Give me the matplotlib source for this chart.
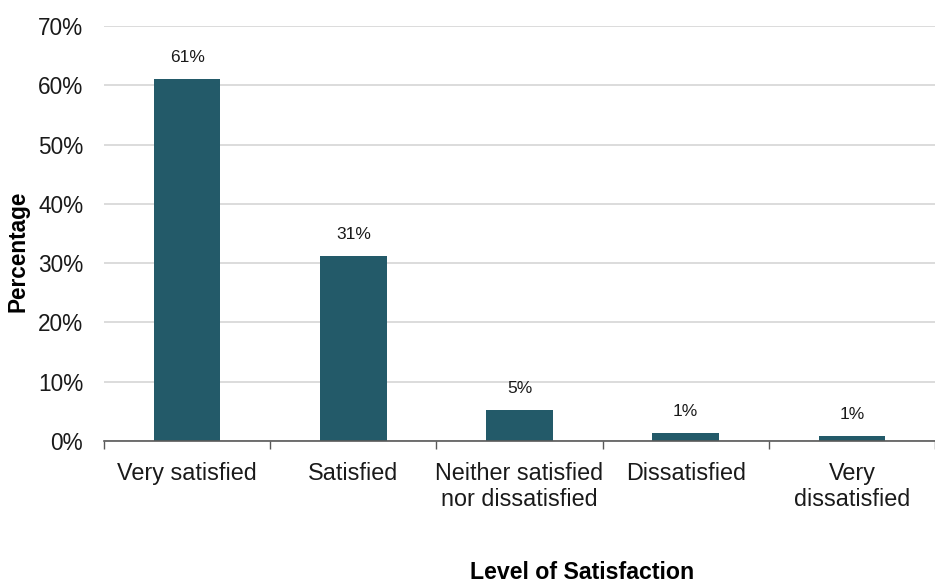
import matplotlib.pyplot as plt
import numpy as np
from matplotlib.ticker import FuncFormatter, FixedLocator

plt.rcParams['font.family'] = ['Liberation Sans', 'DejaVu Sans']

categories = ['Very satisfied', 'Satisfied', 'Neither satisfied\nnor dissatisfied',
              'Dissatisfied', 'Very\ndissatisfied']
values = [61.0, 31.2, 5.3, 1.3, 0.8]
labels = ['61%', '31%', '5%', '1%', '1%']
yticks = [0, 10, 20, 30, 40, 50, 60, 70]

bar_color = '#235A69'
axis_color = '#595959'

fig = plt.figure(figsize=(9.35, 5.83), dpi=100)
ax = fig.add_axes([104 / 935, 142 / 583, 831 / 935, 415 / 583])

x = np.arange(len(categories))
bars = ax.bar(x, values, width=0.4, color=bar_color, zorder=3)

for b, lab in zip(bars, labels):
    ax.annotate(lab, (b.get_x() + b.get_width() / 2, b.get_height()),
                xytext=(0, 10), textcoords='offset points',
                ha='center', va='bottom', fontsize=12.5, color='#1a1a1a')

ax.set_xlim(-0.5, len(categories) - 0.5)
ax.set_ylim(0, 70)
ax.set_yticks(yticks)
ax.yaxis.set_major_formatter(FuncFormatter(lambda v, p: f'{v:.0f}%'))
ax.tick_params(axis='y', length=0, pad=15, labelsize=16.3, labelcolor='#1a1a1a')
ax.grid(axis='y', color='#D9D9D9', linewidth=1.3, zorder=0)

# boundary ticks (major) without labels, category labels on minor ticks
ax.xaxis.set_major_locator(FixedLocator(np.arange(len(categories) + 1) - 0.5))
ax.xaxis.set_minor_locator(FixedLocator(x))
ax.set_xticklabels([], minor=False)
ax.set_xticklabels(categories, minor=True)
ax.tick_params(axis='x', which='major', length=6, color=axis_color, width=1)
ax.tick_params(axis='x', which='minor', length=0, pad=15, labelsize=16.8,
               labelcolor='#1a1a1a')

for s in ['top', 'right', 'left']:
    ax.spines[s].set_visible(False)
ax.spines['bottom'].set_color(axis_color)
ax.spines['bottom'].set_linewidth(1.2)
ax.spines['bottom'].set_zorder(4)

ax.set_ylabel('Percentage', fontsize=16.3, fontweight='bold', va='center')
ax.yaxis.set_label_coords(-0.1035, 0.458)
ax.set_xlabel('Level of Satisfaction', fontsize=16.7, fontweight='bold', va='center')
ax.xaxis.set_label_coords(0.575, -0.318)

fig.savefig('out.png', dpi=100)
